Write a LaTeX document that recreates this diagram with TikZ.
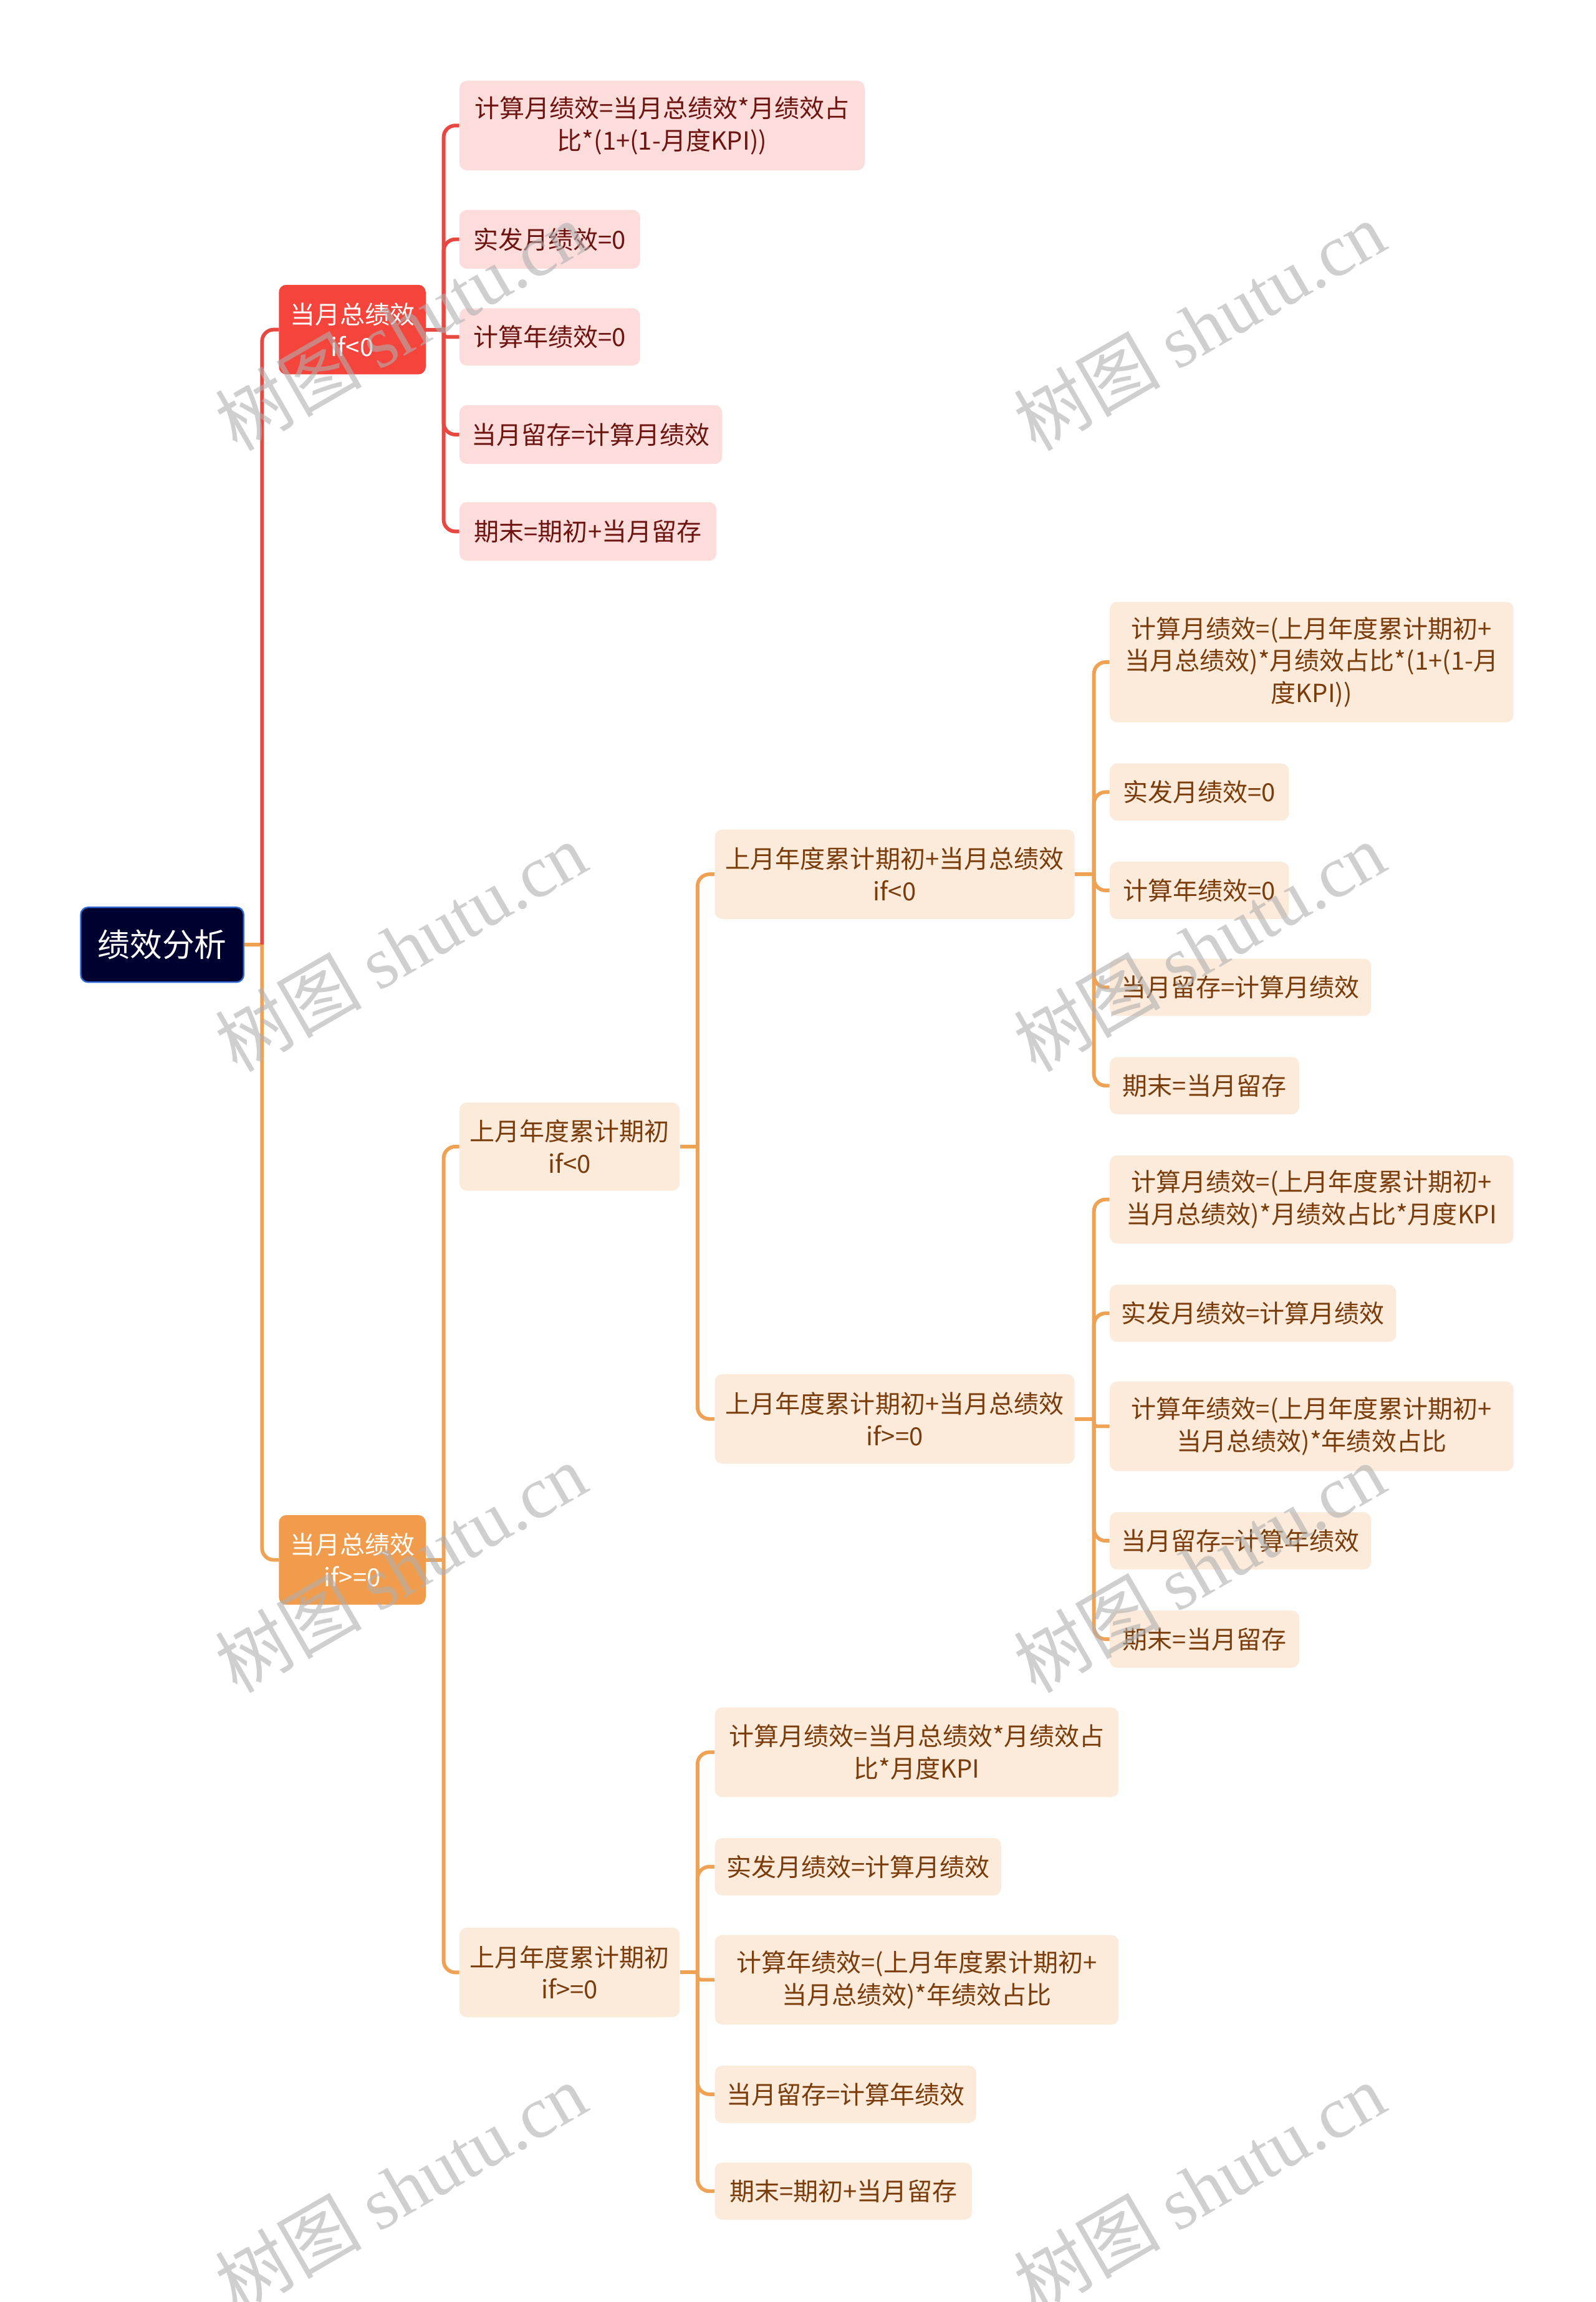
\documentclass[tikz,border=0pt]{standalone}
\usepackage{fontspec}
\setmainfont{Noto Sans CJK SC}
\newfontfamily\wmcjk{Noto Sans CJK SC}
\newfontfamily\wmlat{Liberation Serif}
\usetikzlibrary{calc}

\definecolor{rootfill}{RGB}{0,0,48}
\definecolor{rootborder}{RGB}{46,107,214}
\definecolor{redfill}{RGB}{245,68,59}
\definecolor{redline}{RGB}{232,72,64}
\definecolor{pinkfill}{RGB}{252,221,220}
\definecolor{redtext}{RGB}{110,20,16}
\definecolor{orgfill}{RGB}{241,156,76}
\definecolor{orgline}{RGB}{240,162,84}
\definecolor{lightorg}{RGB}{252,235,219}
\definecolor{browntext}{RGB}{122,60,10}
\definecolor{wmgray}{RGB}{175,175,175}

\newcommand\mybox[7]{\node[#1, minimum width={#5-#3}, minimum height={#6-#4}] (#2) at ({(#3+#5)/2},{(#4+#6)/2}) {#7};}

\begin{document}
\begin{tikzpicture}[x=1pt,y=-1pt,
 box/.style={rounded corners=5pt, align=center, inner sep=0pt, font=\fontsize{17}{22}\selectfont},
 rootbox/.style={box, fill=rootfill, draw=rootborder, line width=1pt, text=white, font=\fontsize{22}{26}\selectfont},
 redbox/.style={box, fill=redfill, text=white},
 orgbox/.style={box, fill=orgfill, text=white},
 pinkbox/.style={box, fill=pinkfill, text=redtext},
 peachbox/.style={box, fill=lightorg, text=browntext},
 rlink/.style={draw=redline, line width=2.5pt, rounded corners=8pt},
 olink/.style={draw=orgline, line width=2.5pt, rounded corners=8pt},
 near/.style={rounded corners=2.5pt},
 wm/.style={text=wmgray, opacity=0.6, rotate=30, inner sep=0pt, font=\fontsize{50}{56}\selectfont}
]
\useasboundingbox[fill=white] (0,0) rectangle (1087,1568);

% nodes
\mybox{rootbox}{root}{55}{618}{166}{669}{绩效分析}
\mybox{redbox}{A}{190}{194}{290}{255}{当月总绩效\\if<0}
\mybox{orgbox}{B}{190}{1032}{290}{1093}{当月总绩效\\if>=0}

\mybox{pinkbox}{A1}{313}{55}{589}{116}{计算月绩效=当月总绩效*月绩效占\\比*(1+(1-月度KPI))}
\mybox{pinkbox}{A2}{313}{143}{436}{183}{实发月绩效=0}
\mybox{pinkbox}{A3}{313}{210}{436}{249}{计算年绩效=0}
\mybox{pinkbox}{A4}{313}{276}{492}{316}{当月留存=计算月绩效}
\mybox{pinkbox}{A5}{313}{342}{488}{382}{期末=期初+当月留存}

\mybox{peachbox}{B1}{313}{751}{463}{811}{上月年度累计期初\\if<0}
\mybox{peachbox}{B2}{313}{1313}{463}{1374}{上月年度累计期初\\if>=0}

\mybox{peachbox}{C1}{487}{565}{732}{626}{上月年度累计期初+当月总绩效\\if<0}
\mybox{peachbox}{C2}{487}{936}{732}{997}{上月年度累计期初+当月总绩效\\if>=0}

\mybox{peachbox}{D1}{756}{410}{1031}{492}{计算月绩效=(上月年度累计期初+\\当月总绩效)*月绩效占比*(1+(1-月\\度KPI))}
\mybox{peachbox}{D2}{756}{520}{878}{559}{实发月绩效=0}
\mybox{peachbox}{D3}{756}{587}{878}{626}{计算年绩效=0}
\mybox{peachbox}{D4}{756}{653}{934}{692}{当月留存=计算月绩效}
\mybox{peachbox}{D5}{756}{720}{885}{759}{期末=当月留存}

\mybox{peachbox}{E1}{756}{787}{1031}{847}{计算月绩效=(上月年度累计期初+\\当月总绩效)*月绩效占比*月度KPI}
\mybox{peachbox}{E2}{756}{875}{951}{914}{实发月绩效=计算月绩效}
\mybox{peachbox}{E3}{756}{941}{1031}{1002}{计算年绩效=(上月年度累计期初+\\当月总绩效)*年绩效占比}
\mybox{peachbox}{E4}{756}{1030}{934}{1069}{当月留存=计算年绩效}
\mybox{peachbox}{E5}{756}{1097}{885}{1136}{期末=当月留存}

\mybox{peachbox}{F1}{487}{1163}{762}{1224}{计算月绩效=当月总绩效*月绩效占\\比*月度KPI}
\mybox{peachbox}{F2}{487}{1252}{682}{1291}{实发月绩效=计算月绩效}
\mybox{peachbox}{F3}{487}{1318}{762}{1379}{计算年绩效=(上月年度累计期初+\\当月总绩效)*年绩效占比}
\mybox{peachbox}{F4}{487}{1407}{665}{1446}{当月留存=计算年绩效}
\mybox{peachbox}{F5}{487}{1473}{662}{1512}{期末=期初+当月留存}

% junctions
\coordinate (rj) at ($(root.east)+(12,0)$);
\coordinate (aj) at ($(A.east)+(12,0)$);
\coordinate (bj) at ($(B.east)+(12,0)$);
\coordinate (b1j) at ($(B1.east)+(12,0)$);
\coordinate (b2j) at ($(B2.east)+(12,0)$);
\coordinate (c1j) at ($(C1.east)+(13,0)$);
\coordinate (c2j) at ($(C2.east)+(13,0)$);

% connectors
\draw[olink] (root.east) -- (rj);
\draw[rlink] (rj) |- (A.west);
\draw[olink] (rj) |- (B.west);

\draw[rlink] (A.east) -- (aj);
\draw[rlink] (aj) |- (A1.west);
\draw[rlink] (aj) |- (A2.west);
\draw[rlink,near] (aj) |- (A3.west);
\draw[rlink] (aj) |- (A4.west);
\draw[rlink] (aj) |- (A5.west);

\draw[olink] (B.east) -- (bj);
\draw[olink] (bj) |- (B1.west);
\draw[olink] (bj) |- (B2.west);

\draw[olink] (B1.east) -- (b1j);
\draw[olink] (b1j) |- (C1.west);
\draw[olink] (b1j) |- (C2.west);

\draw[olink] (C1.east) -- (c1j);
\draw[olink] (c1j) |- (D1.west);
\draw[olink] (c1j) |- (D2.west);
\draw[olink] (c1j) |- (D3.west);
\draw[olink] (c1j) |- (D4.west);
\draw[olink] (c1j) |- (D5.west);

\draw[olink] (C2.east) -- (c2j);
\draw[olink] (c2j) |- (E1.west);
\draw[olink] (c2j) |- (E2.west);
\draw[olink,near] (c2j) |- (E3.west);
\draw[olink] (c2j) |- (E4.west);
\draw[olink] (c2j) |- (E5.west);

\draw[olink] (B2.east) -- (b2j);
\draw[olink] (b2j) |- (F1.west);
\draw[olink] (b2j) |- (F2.west);
\draw[olink,near] (b2j) |- (F3.west);
\draw[olink] (b2j) |- (F4.west);
\draw[olink] (b2j) |- (F5.west);

% watermarks
\foreach \wx/\wy [count=\i] in {273/222,817/222,273/645,817/645,273/1068,817/1068,273/1490,817/1490}{
  \node[wm] (wm\i) at (\wx,\wy) {{\wmcjk 树图} {\wmlat shutu.cn}};
}
\end{tikzpicture}
\end{document}
